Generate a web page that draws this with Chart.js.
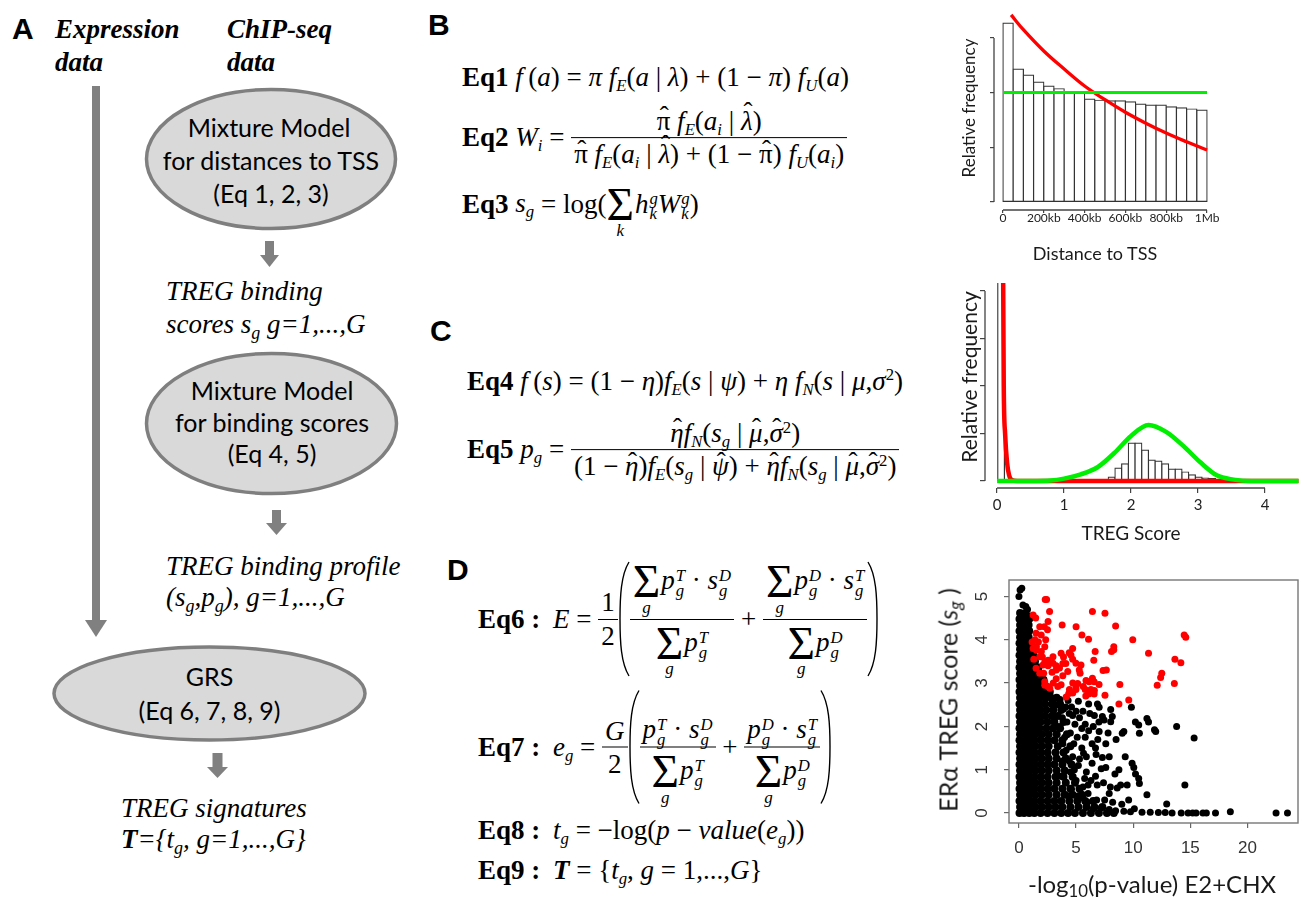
<!DOCTYPE html>
<html>
<head>
<meta charset="utf-8">
<script src="https://cdn.jsdelivr.net/npm/chart.js@4.4.1/dist/chart.umd.min.js"></script>
<style>
html, body { margin: 0; padding: 0; background: #fff; }
#page { position: relative; width: 1302px; height: 898px; overflow: hidden; font-family: Lato, "Liberation Sans", sans-serif; color: #000; }
.abs { position: absolute; }
.panel { position: absolute; font-family: "Liberation Sans", Arial, sans-serif; font-weight: bold; font-size: 30px; line-height: 1; }
.lab { position: absolute; white-space: nowrap; line-height: 1; color: #1a1a1a; transform: translate(-50%, -50%); }
.lab.rot { transform: translate(-50%, -50%) rotate(-90deg); }
.lab sub { font-size: 0.7em; vertical-align: -0.25em; line-height: 0; }
canvas { position: absolute; }

.eq { position: absolute; font-family: "Liberation Serif", "Times New Roman", serif; font-size: 27px; line-height: 1;
      white-space: nowrap; display: flex; align-items: center; transform: translateY(-50%); }
.eq > span { flex: none; }
.eq sub { font-size: 0.62em; vertical-align: -0.3em; line-height: 0; }
.eq sup { font-size: 0.62em; vertical-align: 0.55em; line-height: 0; }
.eq .lbl { display: block; width: 75px; font-weight: bold; }
.frac { display: inline-flex; flex-direction: column; }
.frac > .n, .frac > .d { display: flex; justify-content: center; padding: 0 3px; line-height: 1.2; }
.frac > .n { align-items: flex-end; border-bottom: 1.3px solid #000; }
.frac > .d { align-items: flex-start; }
.ss { display: inline-block; font-size: 0.62em; line-height: 0.9; vertical-align: -0.4em; font-style: italic; margin-left: 1px; }
.ss > span { display: block; }
.sum { display: inline-block; position: relative; font-size: 1.75em; line-height: 1; vertical-align: -0.16em; font-style: normal; margin-right: 1px; }
.sum .lim { position: absolute; left: 50%; top: 86%; transform: translateX(-50%); font-size: 0.36em; font-style: italic; }
.hat { position: relative; display: inline-block; }
.hat::before { content: "\02C6"; position: absolute; left: 55%; top: -0.06em; transform: translateX(-50%);
               font-style: normal; font-family: "Liberation Serif", serif; line-height: 1; }
.hat.tall::before { top: -0.24em; left: 60%; }
.bp { display: block; flex: none; }
</style>
</head>
<body>
<div id="page">

<!-- panel A : flow chart -->
<svg class="abs" style="left:0;top:0" width="430" height="898">
  <g fill="#808080">
    <rect x="92" y="86" width="8" height="535"/>
    <polygon points="85,620 107,620 96,637"/>
    <rect x="265" y="241" width="9" height="14"/>
    <polygon points="260,255 279,255 269.5,267"/>
    <rect x="272" y="510" width="9" height="13"/>
    <polygon points="266,523 287,523 276.5,535"/>
    <rect x="212.5" y="753" width="10" height="14"/>
    <polygon points="207,767 228,767 217.5,778"/>
  </g>
  <g fill="#d9d9d9" stroke="#7f7f7f" stroke-width="3.5">
    <ellipse cx="271" cy="159" rx="124.5" ry="69.5"/>
    <ellipse cx="271.5" cy="423.5" rx="125" ry="70"/>
    <ellipse cx="209.5" cy="693.5" rx="155.5" ry="46.5"/>
  </g>
  <g font-family="Lato" font-size="25" text-anchor="middle" fill="#000">
    <text x="269" y="137">Mixture Model</text>
    <text x="271" y="170">for distances to TSS</text>
    <text x="271" y="203">(Eq 1, 2, 3)</text>
    <text x="272" y="400">Mixture Model</text>
    <text x="272" y="432">for binding scores</text>
    <text x="272" y="463">(Eq 4, 5)</text>
    <text x="209.5" y="686">GRS</text>
    <text x="209.5" y="720">(Eq 6, 7, 8, 9)</text>
  </g>
  <g font-family="Liberation Serif" font-style="italic" font-size="27" fill="#000">
    <text x="55" y="38" font-weight="bold">Expression</text>
    <text x="55" y="71" font-weight="bold">data</text>
    <text x="227" y="38" font-weight="bold">ChIP-seq</text>
    <text x="227" y="71" font-weight="bold">data</text>
    <text x="166" y="300">TREG binding</text>
    <text x="166" y="333">scores s<tspan dy="6" font-size="18">g</tspan><tspan dy="-6"> g=1,...,G</tspan></text>
    <text x="166" y="575">TREG binding profile</text>
    <text x="166" y="606">(s<tspan dy="6" font-size="18">g</tspan><tspan dy="-6">,p</tspan><tspan dy="6" font-size="18">g</tspan><tspan dy="-6">), g=1,...,G</tspan></text>
    <text x="121" y="817">TREG signatures</text>
    <text x="121" y="848"><tspan font-weight="bold">T</tspan>={t<tspan dy="6" font-size="18">g</tspan><tspan dy="-6">, g=1,...,G}</tspan></text>
  </g>
</svg>

<div class="panel" style="left:12px;top:14px">A</div>
<div class="panel" style="left:428px;top:10px">B</div>
<div class="panel" style="left:430px;top:316px">C</div>
<div class="panel" style="left:447px;top:555px">D</div>

<!-- equations B -->
<div class="eq" style="left:462px;top:77px"><span><b>Eq1</b>&nbsp;<i>f</i>&#8201;(<i>a</i>) = <i>π f<sub>E</sub></i>(<i>a</i> | <i>λ</i>) + (1 − <i>π</i>) <i>f<sub>U</sub></i>(<i>a</i>)</span></div>

<div class="eq" style="left:462px;top:138px">
  <span><b>Eq2</b>&nbsp;<i>W<sub>i</sub></i> =&nbsp;</span>
  <span class="frac">
    <span class="n"><span><span class="hat">π</span> <i>f<sub>E</sub></i>(<i>a<sub>i</sub></i> | <i class="hat tall">λ</i>)</span></span>
    <span class="d"><span><span class="hat">π</span> <i>f<sub>E</sub></i>(<i>a<sub>i</sub></i> | <i class="hat tall">λ</i>) + (1 − <span class="hat">π</span>) <i>f<sub>U</sub></i>(<i>a<sub>i</sub></i>)</span></span>
  </span>
</div>

<div class="eq" style="left:462px;top:205px"><span><b>Eq3</b>&nbsp;<i>s<sub>g</sub></i> = log(<span class="sum">Σ<span class="lim">k</span></span><i>h</i><span class="ss"><span>g</span><span>k</span></span><i>W</i><span class="ss"><span>g</span><span>k</span></span>)</span></div>

<!-- equations C -->
<div class="eq" style="left:467px;top:381px"><span><b>Eq4</b>&nbsp;<i>f</i>&#8201;(<i>s</i>) = (1 − <i>η</i>)<i>f<sub>E</sub></i>(<i>s</i> | <i>ψ</i>) + <i>η f<sub>N</sub></i>(<i>s</i> | <i>μ</i>,<i>σ</i><sup>2</sup>)</span></div>

<div class="eq" style="left:467px;top:450px">
  <span><b>Eq5</b>&nbsp;<i>p<sub>g</sub></i> =&nbsp;</span>
  <span class="frac">
    <span class="n"><span><i class="hat">η</i><i>f<sub>N</sub></i>(<i>s<sub>g</sub></i> | <i class="hat">μ</i>,<i class="hat">σ</i><sup>2</sup>)</span></span>
    <span class="d"><span>(1 − <i class="hat">η</i>)<i>f<sub>E</sub></i>(<i>s<sub>g</sub></i> | <i class="hat">ψ</i>) + <i class="hat">η</i><i>f<sub>N</sub></i>(<i>s<sub>g</sub></i> | <i class="hat">μ</i>,<i class="hat">σ</i><sup>2</sup>)</span></span>
  </span>
</div>

<!-- equations D -->
<div class="eq" style="left:478px;top:619px">
  <span class="lbl">Eq6 :</span>
  <span><i>E</i> =&nbsp;</span>
  <span class="frac"><span class="n"><span>1</span></span><span class="d"><span>2</span></span></span>
  <svg class="bp" width="12" height="116"><path d="M11,1 C3,14 2,35 2,58 C2,81 3,102 11,115" fill="none" stroke="#000" stroke-width="1.4"/></svg>
  <span class="frac">
    <span class="n" style="height:54px"><span style="padding-bottom:13px"><span class="sum">Σ<span class="lim">g</span></span><i>p</i><span class="ss"><span>T</span><span>g</span></span> · <i>s</i><span class="ss"><span>D</span><span>g</span></span></span></span>
    <span class="d" style="height:54px"><span><span class="sum">Σ<span class="lim">g</span></span><i>p</i><span class="ss"><span>T</span><span>g</span></span></span></span>
  </span>
  <span>&nbsp;+&nbsp;</span>
  <span class="frac">
    <span class="n" style="height:54px"><span style="padding-bottom:13px"><span class="sum">Σ<span class="lim">g</span></span><i>p</i><span class="ss"><span>D</span><span>g</span></span> · <i>s</i><span class="ss"><span>T</span><span>g</span></span></span></span>
    <span class="d" style="height:54px"><span><span class="sum">Σ<span class="lim">g</span></span><i>p</i><span class="ss"><span>D</span><span>g</span></span></span></span>
  </span>
  <svg class="bp" width="12" height="116"><path d="M1,1 C9,14 10,35 10,58 C10,81 9,102 1,115" fill="none" stroke="#000" stroke-width="1.4"/></svg>
</div>

<div class="eq" style="left:478px;top:747px">
  <span class="lbl">Eq7 :</span>
  <span><i>e<sub>g</sub></i> =&nbsp;</span>
  <span class="frac"><span class="n"><span><i>G</i></span></span><span class="d"><span>2</span></span></span>
  <svg class="bp" width="12" height="115"><path d="M11,1 C3,14 2,35 2,57 C2,80 3,101 11,114" fill="none" stroke="#000" stroke-width="1.4"/></svg>
  <span class="frac">
    <span class="n" style="height:54px"><span><i>p</i><span class="ss"><span>T</span><span>g</span></span> · <i>s</i><span class="ss"><span>D</span><span>g</span></span></span></span>
    <span class="d" style="height:54px"><span><span class="sum">Σ<span class="lim">g</span></span><i>p</i><span class="ss"><span>T</span><span>g</span></span></span></span>
  </span>
  <span>&nbsp;+&nbsp;</span>
  <span class="frac">
    <span class="n" style="height:54px"><span><i>p</i><span class="ss"><span>D</span><span>g</span></span> · <i>s</i><span class="ss"><span>T</span><span>g</span></span></span></span>
    <span class="d" style="height:54px"><span><span class="sum">Σ<span class="lim">g</span></span><i>p</i><span class="ss"><span>D</span><span>g</span></span></span></span>
  </span>
  <svg class="bp" width="12" height="115"><path d="M1,1 C9,14 10,35 10,57 C10,80 9,101 1,114" fill="none" stroke="#000" stroke-width="1.4"/></svg>
</div>

<div class="eq" style="left:478px;top:830px"><span class="lbl">Eq8 :</span><span><i>t<sub>g</sub></i> = −log(<i>p</i> − <i>value</i>(<i>e<sub>g</sub></i>))</span></div>
<div class="eq" style="left:478px;top:870px"><span class="lbl">Eq9 :</span><span><b><i>T</i></b> = {<i>t<sub>g</sub></i>, <i>g</i> = 1,...,<i>G</i>}</span></div>

<!-- charts -->
<canvas id="cB" width="270" height="270" style="left:955px;top:0px"></canvas>
<canvas id="cC" width="347" height="280" style="left:955px;top:270px"></canvas>
<canvas id="cD" width="377" height="343" style="left:925px;top:555px"></canvas>

<div class="lab rot" style="left:968px;top:108px;font-size:17px">Relative frequency</div>
<div class="lab" style="left:1095px;top:253px;font-size:18px">Distance to TSS</div>
<div class="lab rot" style="left:968px;top:377px;font-size:21px">Relative frequency</div>
<div class="lab" style="left:1131px;top:532px;font-size:19px">TREG Score</div>
<div class="lab rot" style="left:948px;top:700px;font-size:25px">ERα TREG score (<i>s</i><sub><i>g</i></sub> )</div>
<div class="lab" style="left:1152px;top:884px;font-size:24px">-log<sub>10</sub>(p-value) E2+CHX</div>

</div>

<script>
// B: distances of binding sites to TSS (histogram, 50kb bins)
const distMid = [0.025, 0.075, 0.125, 0.175, 0.225, 0.275, 0.325, 0.375, 0.425, 0.475,
                 0.525, 0.575, 0.625, 0.675, 0.725, 0.775, 0.825, 0.875, 0.925, 0.975];
const distFreq = [3.27, 2.43, 2.32, 2.19, 2.12, 2.07, 2.01, 2.01, 1.88, 1.86,
                  1.85, 1.85, 1.83, 1.79, 1.77, 1.77, 1.74, 1.72, 1.70, 1.68];
const distExpX = [0.04, 0.1, 0.2, 0.3, 0.4, 0.5, 0.6, 0.7, 0.8, 0.9, 1.0];
const distExpY = [3.42, 3.15, 2.76, 2.43, 2.12, 1.87, 1.64, 1.44, 1.26, 1.10, 0.95];
const distUnifX = [0, 1];
const distUnifY = [2.0, 2.0];
const distTicks = [0, 0.2, 0.4, 0.6, 0.8, 1.0];
const distTickLabels = ['0', '200kb', '400kb', '600kb', '800kb', '1Mb'];
const distFreqTicks = [0, 1, 2, 3];

// C: TREG binding scores
const scoreMid = [0.06, 1.71, 1.81, 1.91, 2.01, 2.11, 2.21, 2.31, 2.41, 2.51, 2.61, 2.71, 2.81, 2.91, 3.01, 3.11, 3.21];
const scoreFreq = [9, 0.08, 0.27, 0.36, 0.80, 0.80, 0.65, 0.44, 0.42, 0.36, 0.25, 0.25, 0.19, 0.13, 0.08, 0.06, 0.05];
const scoreExpX = [0.085, 0.1, 0.12, 0.15, 0.18, 0.22, 0.3, 1.0, 4.5];
const scoreExpY = [6, 2.0, 1.0, 0.38, 0.12, 0.02, 0, 0, 0];
const scoreNormX = [0, 0.5, 0.8, 1.0, 1.25, 1.5, 1.75, 2.0, 2.26, 2.53, 2.78, 3.03, 3.28, 3.53, 3.78, 4.5];
const scoreNormY = [0, 0, 0.01, 0.05, 0.14, 0.29, 0.59, 0.95, 1.18, 1.03, 0.74, 0.40, 0.12, 0.03, 0, 0];
const scoreTicks = [0, 1, 2, 3, 4];
const scoreFreqTicks = [0, 1, 2, 3, 4];

// D: ER-alpha TREG score vs -log10(p) ; red = selected genes
const grsRed = [
  [2.3,4.93],[2.42,4.93],[1.24,4.57],[1.47,4.5],[2.68,4.65],[2.55,4.42],[2.22,4.3],[2.5,4.23],[3.78,4.34],[5.0,4.3],
  [6.43,4.65],[7.53,4.61],[8.46,4.32],[5.51,4.11],[6.09,4.01],[9.96,4.0],[11.34,3.69],[14.46,4.11],[14.6,4.06],[13.65,3.55],
  [14.17,3.47],[12.5,3.23],[12.4,3.13],[12.1,2.95],[13.6,2.99],[8.3,3.84],[8.3,3.77],[8.1,3.73],[6.67,3.73],[6.55,3.53],
  [7.65,3.30],[7.36,3.29],[8.83,2.97],[8.75,2.52],[9.61,2.61],[7.01,2.97],[7.53,2.72],[6.3,2.85],[6.6,2.83],[5.87,3.06],
  [5.35,3.23],[6.43,3.11],[6.58,3.03],[5.8,2.85],[6.1,2.75],[5.85,2.7],[5.14,2.99],[4.99,2.91],[4.42,2.85],[4.71,3.0],
  [4.71,2.77],[4.13,2.68],[4.36,2.76],[3.26,3.4],[3.55,3.35],[3.26,3.1],[3.84,3.45],[3.9,3.6],[4.4,3.7],[4.7,3.55],
  [4.1,3.45],[4.7,3.8],[4.55,3.65],[3.69,3.69],[2.98,3.61],[2.98,3.46],[2.55,3.53],[2.26,3.48],[2.55,3.4],[2.1,3.42],
  [1.53,3.76],[1.53,3.84],[1.24,3.8],[1.4,4.0],[1.5,4.15],[1.7,3.95],[1.95,4.11],[2.34,4.0],[1.82,4.3],[2.26,3.84],
  [1.96,3.73],[1.82,3.61],[1.5,3.34],[2.16,3.23],[1.82,3.23],[2.26,3.03],[2.26,2.95],[2.55,2.92],[2.7,2.88],[3.26,3.3],
  [3.4,2.92],[3.69,2.96],[3.84,3.17],[4.27,3.27],[4.99,3.46],[5.43,3.42],[5.28,3.3],[6.14,3.03],[5.63,2.92],[6.58,2.75],
  [4.99,2.85],[2.9,3.25],[3.0,3.0],[1.3,3.55],[1.15,3.95],[2.05,3.6]
];
const grsBlack = [
  [0.1,5.15],[0.25,5.19],[0.0,5.0],[0.6,4.77],[0.75,4.7],[0.95,4.55],[0.35,4.8],
  [3.4,2.5],[4.1,2.45],[4.4,2.3],[3.8,2.2],[4.7,2.25],[5.2,2.58],[6.1,2.52],[5.6,2.35],[6.87,2.52],
  [7.02,2.44],[8.03,2.39],[8.17,2.23],[8.03,2.11],[7.3,2.23],[7.45,2.15],[7.02,1.88],[5.8,2.05],[6.5,2.0],
  [6.1,1.9],[5.8,1.75],[6.4,1.6],[6.7,1.5],[6.75,1.35],[7.3,1.28],[7.6,1.6],[9.04,1.84],[9.18,1.88],
  [9.84,2.44],[10.19,2.1],[10.48,2.03],[10.54,1.84],[11.2,2.18],[11.34,2.1],[11.86,1.92],[11.97,1.88],
  [13.8,2.0],[15.33,1.73],
  [14.52,0.65],[12.93,0.21],[9.9,1.15],[10.05,1.05],[10.2,0.9],[10.48,0.8],[10.54,0.68],[11.2,0.42],
  [8.75,1.0],[8.9,0.65],[8.6,0.58],[9.47,0.65],[7.6,1.05],[7.2,1.02],[6.7,0.85],[6.85,0.65],[7.9,0.45],
  [5.9,0.95],[5.75,0.8],[6.05,0.65],[5.2,0.4],[5.6,0.35],[6.05,0.45],[4.4,1.2],[4.7,1.3],[4.85,1.0],
  [5.5,1.5],[5.65,1.38],[3.84,1.6],[4.13,1.45],
  [3.0,2.6],[3.6,2.62],[4.3,2.6],[3.9,2.4],[4.6,2.45],[5.0,2.35],[5.3,2.2],[4.2,2.1],[4.9,2.05],[5.5,1.95],
  [4.5,1.85],[5.1,1.75],[4.0,1.75],[4.8,1.6],[5.3,1.25],[4.5,0.95],[5.0,0.75],[4.6,0.55],[5.6,0.6],[6.3,0.75],
  [6.4,1.15],[5.9,1.3],[5.2,1.1],[6.2,2.3],[6.6,2.25],[7.0,2.1],[6.9,1.7],[7.8,1.85],[8.5,1.7],[6.0,0.25],
  [6.8,0.3],[7.5,0.3],[8.2,0.25],[9.0,0.2],[9.6,0.3],[8.4,0.9],[7.4,0.7],[7.9,1.3],[9.3,1.3],[8.0,0.6],
  [3.5,2.0],[3.8,1.2],[4.3,0.4],[3.6,0.85],
  [6.5,0.1],[7.2,0.12],[7.9,0.08],[8.46,0.05],[9.18,0.04],[9.76,0.03],[10.1,0.1],[10.77,0.02],[11.49,0.02],
  [12.2,0.01],[12.8,0.01],[13.4,0],[14.2,0],[14.8,0],[15.2,0],[15.5,0],[16.1,0],[16.4,0],[17.2,0],
  [18.5,0.03],[22.5,0],[23.5,0]
];
// the solid black mass near x=0, read row by row: [y, [x...]]
const grsDenseRows = [
  [4.62,[0.1,0.55]],
  [4.48,[0.05,0.45,0.9]],
  [4.34,[0.1,0.5,0.85]],
  [4.2,[0.05,0.45,0.9]],
  [4.06,[0.1,0.5,0.85]],
  [3.92,[0.05,0.45,0.9]],
  [3.78,[0.1,0.5,0.95]],
  [3.64,[0.05,0.45,0.9,1.25]],
  [3.5,[0.1,0.5,0.95,1.4]],
  [3.36,[0.05,0.45,0.9,1.35,1.7]],
  [3.22,[0.1,0.5,0.95,1.4,1.85]],
  [3.08,[0.05,0.45,0.9,1.35,1.8,2.15]],
  [2.94,[0.1,0.5,0.95,1.4,1.85,2.3]],
  [2.8,[0.05,0.45,0.9,1.35,1.8,2.25,2.7]],
  [2.66,[0.1,0.5,0.95,1.4,1.85,2.3,2.8,3.3]],
  [2.52,[0.05,0.45,0.9,1.35,1.8,2.3,2.9,3.6]],
  [2.38,[0.1,0.5,0.95,1.4,1.85,2.4,3.0,3.7]],
  [2.24,[0.05,0.45,0.9,1.35,1.8,2.3,2.9,3.4]],
  [2.1,[0.1,0.5,0.95,1.4,1.9,2.5,3.1,3.9]],
  [1.96,[0.05,0.45,0.9,1.35,1.8,2.4,3.0,3.6]],
  [1.82,[0.1,0.5,0.95,1.45,2.0,2.6,3.3,4.2]],
  [1.68,[0.05,0.45,0.9,1.35,1.9,2.5,3.1,3.8]],
  [1.54,[0.1,0.5,0.95,1.45,2.0,2.6,3.4,4.5]],
  [1.4,[0.05,0.45,0.9,1.35,1.9,2.5,3.2,3.9]],
  [1.26,[0.1,0.5,0.95,1.45,2.0,2.6,3.3,4.1]],
  [1.12,[0.05,0.45,0.9,1.35,1.9,2.5,3.1,3.8,4.6]],
  [0.98,[0.1,0.5,0.95,1.45,2.0,2.6,3.3,4.0]],
  [0.84,[0.05,0.45,0.9,1.35,1.9,2.5,3.2,3.9,4.7]],
  [0.7,[0.1,0.5,0.95,1.45,2.0,2.6,3.3,4.1,4.9]],
  [0.56,[0.05,0.45,0.9,1.35,1.9,2.5,3.1,3.8,4.5,5.3]],
  [0.42,[0.1,0.5,0.95,1.45,2.0,2.6,3.3,4.0,4.7,5.5]],
  [0.28,[0.05,0.45,0.9,1.35,1.9,2.5,3.1,3.7,4.4,5.1,5.8,6.5]],
  [0.14,[0.1,0.5,0.95,1.45,2.0,2.6,3.2,3.8,4.5,5.2,5.9,6.6,7.3]],
  [0.0,[0.05,0.45,0.9,1.35,1.9,2.5,3.1,3.7,4.3,4.9,5.6,6.3,7.0,7.7,8.3]]
];
const grsXTicks = [0, 5, 10, 15, 20];
const grsYTicks = [0, 1, 2, 3, 4, 5];

Chart.defaults.font.family = 'Lato';
Chart.defaults.color = '#222';

// R-like axes: line only between first and last tick, optional box and rotated y labels
const rAxis = {
  id: 'rAxis',
  afterDatasetsDraw(chart, args, o) {
    const ctx = chart.ctx;
    const a = chart.chartArea;
    const x = chart.scales.x, y = chart.scales.y;
    ctx.save();
    ctx.strokeStyle = o.color;
    ctx.lineWidth = o.width;
    ctx.beginPath();
    if (o.x) {
      ctx.moveTo(x.getPixelForValue(o.x[0]), a.bottom);
      ctx.lineTo(x.getPixelForValue(o.x[1]), a.bottom);
    }
    if (o.y) {
      ctx.moveTo(a.left, y.getPixelForValue(o.y[0]));
      ctx.lineTo(a.left, y.getPixelForValue(o.y[1]));
    }
    ctx.stroke();
    if (o.box) {
      ctx.strokeRect(a.left, a.top, a.right - a.left, a.bottom - a.top);
    }
    if (o.yLabels) {
      ctx.fillStyle = o.labelColor;
      ctx.font = o.labelFont;
      ctx.textAlign = 'center';
      ctx.textBaseline = 'middle';
      o.yLabels.forEach(v => {
        ctx.save();
        ctx.translate(a.left - o.labelOffset, y.getPixelForValue(v));
        ctx.rotate(-Math.PI / 2);
        ctx.fillText(String(v), 0, 0);
        ctx.restore();
      });
    }
    ctx.restore();
  }
};

function pairs(xs, ys) {
  return xs.map((x, i) => ({x: x, y: ys[i]}));
}

function axisX(min, max, ticks, labels, size, tickLen, pad, height) {
  return {
    type: 'linear', min: min, max: max, offset: false,
    grid: {display: true, offset: false, drawOnChartArea: false, drawTicks: true, tickLength: tickLen, color: '#444', lineWidth: 1.2},
    border: {display: false},
    ticks: {font: {size: size}, color: '#222', padding: pad, maxRotation: 0, autoSkip: false,
            callback: (v, i) => labels[i]},
    afterBuildTicks: s => { s.ticks = ticks.map(v => ({value: v})); },
    afterFit: s => { s.height = height; }
  };
}

function axisY(min, max, ticks, tickLen, width) {
  return {
    type: 'linear', min: min, max: max,
    grid: {display: true, drawOnChartArea: false, drawTicks: true, tickLength: tickLen, color: '#444', lineWidth: 1.2},
    border: {display: false},
    ticks: {display: false},
    afterBuildTicks: s => { s.ticks = ticks.map(v => ({value: v})); },
    afterFit: s => { s.width = width; }
  };
}

const noChrome = {legend: {display: false}, tooltip: {enabled: false}};

// B
new Chart(document.getElementById('cB'), {
  type: 'bar',
  data: {
    datasets: [
      {type: 'line', data: pairs(distUnifX, distUnifY), borderColor: '#00ee00', borderWidth: 3, pointRadius: 0, order: 0},
      {type: 'line', data: pairs(distExpX, distExpY), borderColor: '#ff0000', borderWidth: 3.3, pointRadius: 0,
       tension: 0.4, order: 1},
      {type: 'bar', data: pairs(distMid, distFreq), backgroundColor: '#ffffff', borderColor: '#333',
       borderWidth: 1.2, borderSkipped: false, inflateAmount: 0.6, barPercentage: 1, categoryPercentage: 1, order: 2}
    ]
  },
  options: {
    responsive: false, animation: false, devicePixelRatio: 1,
    layout: {padding: {left: 0, top: 10, right: 10, bottom: 0}},
    plugins: Object.assign({rAxis: {x: [0, 1], y: [0, 3], color: '#444', width: 1.3}}, noChrome),
    scales: {
      x: axisX(-0.044, 1.039, distTicks, distTickLabels, 12, 3, -2, 60),
      y: axisY(-0.146, 3.51, distFreqTicks, 4, 39)
    }
  },
  plugins: [rAxis]
});

// C
new Chart(document.getElementById('cC'), {
  type: 'bar',
  data: {
    datasets: [
      {type: 'line', data: pairs(scoreNormX, scoreNormY), borderColor: '#00ee00', borderWidth: 4.5, pointRadius: 0,
       cubicInterpolationMode: 'monotone', order: 0},
      {type: 'line', data: pairs(scoreExpX, scoreExpY), borderColor: '#ff0000', borderWidth: 4.5, pointRadius: 0,
       cubicInterpolationMode: 'monotone', order: 1},
      {type: 'bar', data: pairs(scoreMid, scoreFreq), backgroundColor: '#ffffff', borderColor: '#333',
       borderWidth: 1.2, borderSkipped: false, inflateAmount: 0.6, barPercentage: 1, categoryPercentage: 1, order: 2}
    ]
  },
  options: {
    responsive: false, animation: false, devicePixelRatio: 1,
    layout: {padding: {left: 0, top: 13, right: 2, bottom: 0}},
    plugins: Object.assign({rAxis: {x: [0, 4], y: [0, 4], color: '#444', width: 1.3}}, noChrome),
    scales: {
      x: axisX(-0.18, 4.522, scoreTicks, scoreTicks.map(String), 15, 5, 3, 62),
      y: axisY(-0.147, 4.17, scoreFreqTicks, 5, 30)
    }
  },
  plugins: [rAxis]
});

// D
const grsDense = grsDenseRows.flatMap(([y, xs]) => xs.map(x => ({x: x, y: y})));
const xD = axisX(-0.87, 24.42, grsXTicks, grsXTicks.map(String), 17, 5, 10, 75);
xD.ticks.font = {family: 'Liberation Sans', size: 17};
xD.ticks.color = '#333';
xD.grid.color = '#666';
new Chart(document.getElementById('cD'), {
  type: 'scatter',
  data: {
    datasets: [
      {data: grsRed.map(([x, y]) => ({x: x, y: y})), pointRadius: 3.5, pointBackgroundColor: '#ff0000', pointBorderWidth: 0, order: 0},
      {data: grsBlack.map(([x, y]) => ({x: x, y: y})), pointRadius: 3.5, pointBackgroundColor: '#000', pointBorderWidth: 0, order: 1},
      {data: grsDense, pointRadius: 4, pointBackgroundColor: '#000', pointBorderWidth: 0, order: 2}
    ]
  },
  options: {
    responsive: false, animation: false, devicePixelRatio: 1,
    layout: {padding: {left: 0, top: 25, right: 1, bottom: 0}},
    plugins: Object.assign({rAxis: {box: true, color: '#777', width: 1.4, yLabels: grsYTicks,
      labelColor: '#333', labelFont: '17px "Liberation Sans"', labelOffset: 27}}, noChrome),
    scales: {
      x: xD,
      y: Object.assign(axisY(-0.23, 5.38, grsYTicks, 5, 84), {grid: {display: true, drawOnChartArea: false, drawTicks: true, tickLength: 5, color: '#666', lineWidth: 1.2}})
    }
  },
  plugins: [rAxis]
});
</script>
</body>
</html>
